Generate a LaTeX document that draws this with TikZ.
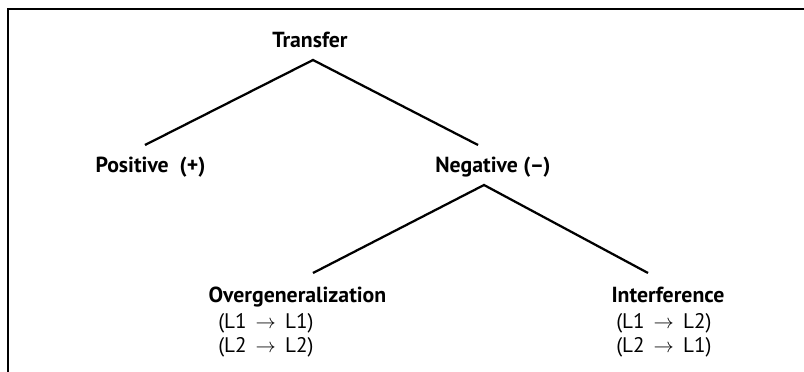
\documentclass[tikz,border=0pt]{standalone}
\usepackage{fontspec}
\setmainfont{PT Sans}

\tikzset{
  head/.style={font=\fontsize{15.5}{18}\selectfont\bfseries, inner sep=0pt, anchor=base},
  pair/.style={font=\fontsize{15}{17}\selectfont, inner sep=0pt, anchor=base west},
  branch/.style={line width=1.6pt},
}
\newcommand{\toarrow}{\ \,$\rightarrow$\,\ }

\begin{document}
\begin{tikzpicture}
\useasboundingbox (0,0) rectangle (20.1,-9.3);
\draw[line width=1.4pt] (0.2,-9.3) -- (0.2,-0.225) -- (20.1,-0.225);

% top level
\node[head] (transfer) at (7.75,-1.2) {Transfer};
\node[head] (positive) at (3.7625,-4.3) {Positive\enspace(+)};
\node[head] (negative) at (12.325,-4.3) {Negative (--)};
\coordinate (apex1) at (7.825,-1.5);
\coordinate (posend) at (3.625,-3.625);
\coordinate (negend) at (11.95,-3.625);
\draw[branch] (posend) -- (apex1) -- (negend);

% second level
\node[head] (overgen) at (7.4375,-7.55) {Overgeneralization};
\node[pair] (og1) at (5.45,-8.2) {(L1\toarrow L1)};
\node[pair] (og2) at (5.45,-8.8) {(L2\toarrow L2)};
\node[head] (interf) at (16.7,-7.55) {Interference};
\node[pair] (if1) at (15.4,-8.2) {(L1\toarrow L2)};
\node[pair] (if2) at (15.4,-8.8) {(L2\toarrow L1)};
\coordinate (apex2) at (12.1,-4.625);
\coordinate (ogend) at (7.825,-6.825);
\coordinate (ifend) at (16.2,-6.825);
\draw[branch] (ogend) -- (apex2) -- (ifend);
\end{tikzpicture}
\end{document}
